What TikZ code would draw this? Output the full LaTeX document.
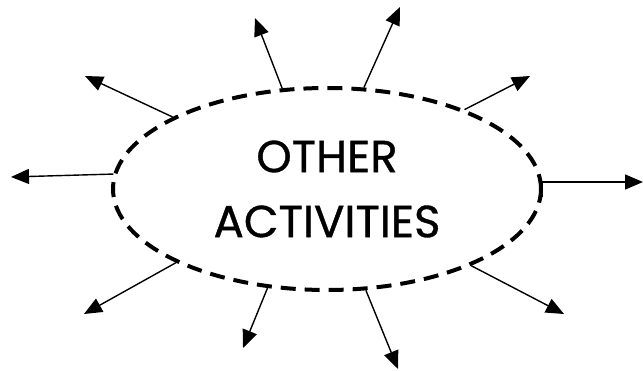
\documentclass[tikz,border=0pt]{standalone}
\usepackage{fontspec}
\setmainfont{Poppins}
\usepackage{tikz}
\usetikzlibrary{shapes,arrows.meta,positioning,calc}

\begin{document}
\begin{tikzpicture}[x=1pt,y=-1pt,
    actarrow/.style={-{Triangle[length=18pt,width=15pt]},line width=1.4pt}]
                    \useasboundingbox (0,0) rectangle (643,370);
                    % centre
                    \node[ellipse, draw, line width=4pt, dash pattern=on 15pt off 9pt,
                          minimum width=428pt, minimum height=202pt, inner sep=0pt,
                          align=center, font=\addfontfeature{FakeBold=0.8}\fontsize{45}{65}\selectfont]
                        (act) at (327,189) {OTHER\\ACTIVITIES};
                    % arrows
                    \foreach \ang/\ex/\ey [count=\i] in {176.8/11/177, 155.4/85/76, 114.2/255/18,
                        70.9/400/7, 30.1/530/76, 206.4/84/314, 239.1/243/348, -69/398/369, -28.6/564/314} {
                        \coordinate (tip\i) at (\ex,\ey);
                        \draw[actarrow] (act.\ang) -- (tip\i);
                    }
                    \coordinate (tipr) at (643,182);
                    \draw[actarrow] (act.-2) |- (tipr);
                \end{tikzpicture}
\end{document}
